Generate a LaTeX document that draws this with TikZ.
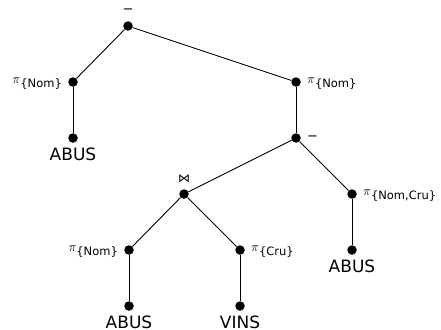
\documentclass[tikz,border=0pt]{standalone}
\usepackage{fontspec}
\usepackage{graphicx}
\setmainfont{DejaVu Sans}
% projection label: math pi followed by a lowered attribute set
\newcommand{\proj}[1]{\scalebox{1.3}{$\pi$}\raisebox{-4pt}{\fontsize{11.5}{13}\selectfont\{#1\}}}
\tikzset{
  op/.style={circle, fill=black, inner sep=0pt, minimum size=9.5pt},
  edge/.style={line width=0.9pt},
  lab/.style={font=\fontsize{13}{15}\selectfont, inner sep=0pt, label distance=6pt},
  projlab/.style={inner sep=0pt, label distance=6pt, yshift=-1.5pt},
  rel/.style={font=\fontsize{17}{19}\selectfont, inner sep=0pt, label distance=4.5pt},
}
\begin{document}
\begin{tikzpicture}[x=1pt, y=-1pt]
\useasboundingbox (0,0) rectangle (441,329);
% operator nodes
\node[op, label={[lab, label distance=7pt]above:\symbol{"2212}}] (root) at (128,26) {};
\node[op, label={[projlab]left:\proj{Nom}}] (pl) at (73,82) {};
\node[op, label={[rel]below:ABUS}] (abus1) at (73,138) {};
\node[op, label={[projlab]right:\proj{Nom}}] (pr) at (296,82) {};
\node[op, label={[lab, label distance=6pt]right:\symbol{"2212}}] (diff) at (296,138) {};
\node[op, label={[inner sep=0pt, label distance=6pt, font=\fontsize{12}{14}\selectfont]above:\symbol{"22C8}}] (join) at (184,194) {};
\node[op, label={[projlab]right:\proj{Nom,Cru}}] (pnc) at (352,194) {};
\node[op, label={[rel]below:ABUS}] (abus2) at (352,250) {};
\node[op, label={[projlab]left:\proj{Nom}}] (pn) at (129,250) {};
\node[op, label={[projlab]right:\proj{Cru}}] (pc) at (240,250) {};
\node[op, label={[rel]below:ABUS}] (abus3) at (129,306) {};
\node[op, label={[rel]below:VINS}] (vins) at (240,306) {};
% edges
\draw[edge] (root) -- (pl);
\draw[edge] (root) -- (pr);
\draw[edge] (pl) -- (abus1);
\draw[edge] (pr) -- (diff);
\draw[edge] (diff) -- (join);
\draw[edge] (diff) -- (pnc);
\draw[edge] (pnc) -- (abus2);
\draw[edge] (join) -- (pn);
\draw[edge] (join) -- (pc);
\draw[edge] (pn) -- (abus3);
\draw[edge] (pc) -- (vins);
\end{tikzpicture}
\end{document}
